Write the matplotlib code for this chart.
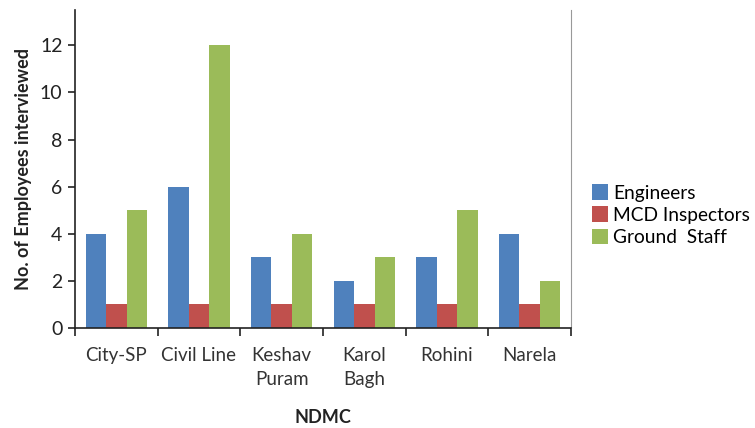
import numpy as np
import matplotlib.pyplot as plt

plt.rcParams['font.family'] = ['Lato', 'DejaVu Sans']

zones = ['City-SP', 'Civil Line', 'Keshav\nPuram', 'Karol\nBagh', 'Rohini', 'Narela']
engineers = [4, 6, 3, 2, 3, 4]
inspectors = [1, 1, 1, 1, 1, 1]
ground_staff = [5, 12, 4, 3, 5, 2]

series = [
    ('Engineers', engineers, '#4F81BD'),
    ('MCD Inspectors', inspectors, '#C0504D'),
    ('Ground  Staff', ground_staff, '#9BBB59'),
]

fig = plt.figure(figsize=(7.55, 4.28), dpi=100)
ax = fig.add_axes([0.0993, 0.2336, 0.6570, 0.743])

x = np.arange(len(zones))
w = 0.248
for i, (name, vals, col) in enumerate(series):
    ax.bar(x + (i - 1) * w, vals, width=w, color=col, label=name, zorder=2)

ax.set_xlim(-0.5, len(zones) - 0.5)
ax.set_ylim(0, 13.5)
ax.set_yticks(range(0, 13, 2))
ax.tick_params(axis='y', labelsize=14, colors='#222222', length=5, width=1.2, direction='out', pad=4)

# category labels centred, tick marks on group boundaries
ax.set_xticks(x)
ax.set_xticklabels(zones, fontsize=13.5, color='#333333', linespacing=1.45)
ax.tick_params(axis='x', length=0, pad=14)
ax.set_xticks(np.arange(-0.5, len(zones), 1), minor=True)
ax.tick_params(axis='x', which='minor', length=6, width=1.2, direction='out', color='#222222')

for s in ['left', 'bottom']:
    ax.spines[s].set_color('#222222')
    ax.spines[s].set_linewidth(1.2)
ax.spines['top'].set_visible(False)
ax.spines['right'].set_color('#999999')
ax.spines['right'].set_linewidth(0.8)

ax.set_ylabel('No. of Employees interviewed', fontsize=13, fontweight='bold', color='#222222', labelpad=6)
ax.set_xlabel('NDMC', fontsize=13, fontweight='bold', color='#222222')
ax.xaxis.set_label_coords(0.5, -0.255)

ax.legend(loc='center left', bbox_to_anchor=(1.027, 0.355), frameon=False, fontsize=13.8,
          handlelength=0.85, handleheight=0.85, handletextpad=0.25, labelspacing=0.25, borderaxespad=0)

fig.savefig('out.png', dpi=100)
